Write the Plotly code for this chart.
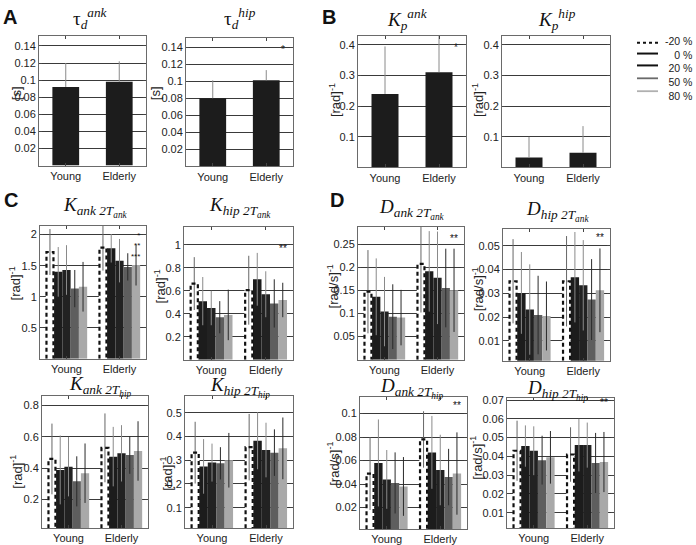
import plotly.graph_objects as go

W, H = 696, 545

groups = ["Young", "Elderly"]
group_pos = [1, 2]
levels = ["-20 %", "0 %", "20 %", "50 %", "80 %"]

# ---- Panel A / B : single bars (mean, upper SD) ----
tau_ank = [0.092, 0.098]
tau_ank_err = [0.028, 0.024]
tau_hip = [0.080, 0.101]
tau_hip_err = [0.021, 0.012]
kp_ank = [0.240, 0.311]
kp_ank_err = [0.155, 0.150]
kp_hip = [0.033, 0.048]
kp_hip_err = [0.067, 0.087]

# ---- Panel C : stiffness, levels -20,0,20,50,80 % ----
k_ank_2tank_young = [1.72, 1.40, 1.43, 1.13, 1.16]
k_ank_2tank_young_sd = [0.37, 0.40, 0.40, 0.30, 0.40]
k_ank_2tank_elderly = [1.79, 1.78, 1.58, 1.48, 1.51]
k_ank_2tank_elderly_sd = [0.37, 0.23, 0.35, 0.22, 0.33]

k_hip_2tank_young = [0.663, 0.51, 0.45, 0.37, 0.39]
k_hip_2tank_young_sd = [0.23, 0.21, 0.15, 0.14, 0.22]
k_hip_2tank_elderly = [0.605, 0.70, 0.57, 0.49, 0.52]
k_hip_2tank_elderly_sd = [0.30, 0.23, 0.20, 0.21, 0.15]

k_ank_2thip_young = [0.459, 0.389, 0.410, 0.316, 0.368]
k_ank_2thip_young_sd = [0.226, 0.22, 0.19, 0.16, 0.19]
k_ank_2thip_elderly = [0.530, 0.474, 0.495, 0.484, 0.510]
k_ank_2thip_elderly_sd = [0.22, 0.19, 0.18, 0.12, 0.19]

k_hip_2thip_young = [0.332, 0.274, 0.290, 0.287, 0.300]
k_hip_2thip_young_sd = [0.13, 0.115, 0.08, 0.068, 0.115]
k_hip_2thip_elderly = [0.355, 0.382, 0.343, 0.332, 0.350]
k_hip_2thip_elderly_sd = [0.14, 0.12, 0.115, 0.098, 0.13]

# ---- Panel D : damping ----
d_ank_2tank_young = [0.147, 0.136, 0.104, 0.093, 0.091]
d_ank_2tank_young_sd = [0.090, 0.083, 0.075, 0.070, 0.060]
d_ank_2tank_elderly = [0.207, 0.191, 0.177, 0.155, 0.150]
d_ank_2tank_elderly_sd = [0.105, 0.087, 0.100, 0.085, 0.090]

d_hip_2tank_young = [0.0351, 0.0302, 0.0232, 0.0209, 0.0205]
d_hip_2tank_young_sd = [0.0177, 0.0172, 0.0190, 0.0165, 0.0145]
d_hip_2tank_elderly = [0.0351, 0.0368, 0.0334, 0.0274, 0.0313]
d_hip_2tank_elderly_sd = [0.0190, 0.0190, 0.0190, 0.0170, 0.0176]

d_ank_2thip_young = [0.049, 0.058, 0.044, 0.041, 0.038]
d_ank_2thip_young_sd = [0.031, 0.037, 0.025, 0.026, 0.025]
d_ank_2thip_elderly = [0.078, 0.067, 0.052, 0.046, 0.049]
d_ank_2thip_elderly_sd = [0.024, 0.031, 0.030, 0.024, 0.035]

d_hip_2thip_young = [0.043, 0.0455, 0.043, 0.038, 0.0395]
d_hip_2thip_young_sd = [0.016, 0.011, 0.013, 0.013, 0.014]
d_hip_2thip_elderly = [0.041, 0.046, 0.046, 0.0365, 0.037]
d_hip_2thip_elderly_sd = [0.0145, 0.014, 0.012, 0.016, 0.016]

# ---- styling ----
bar_fill = ["#ffffff", "#1c1c1c", "#222222", "#5e5e5e", "#a9a9a9"]
err_color = ["#666666", "#8a8a8a", "#8a8a8a", "#2a2a2a", "#2a2a2a"]
legend_line_color = ["#111111", "#111111", "#111111", "#6a6a6a", "#b0b0b0"]
BAR_W = 0.156

SANS = "Liberation Sans, Arial, sans-serif"
SERIF = "Liberation Serif, Times New Roman, serif"

# panel geometry in pixels: left, right, top, bottom
panels = [
    dict(box=(39, 146, 32, 163), rng=(0, 0.152), tv=[0.02, 0.04, 0.06, 0.08, 0.1, 0.12, 0.14],
         tt=["0.02", "0.04", "0.06", "0.08", "0.1", "0.12", "0.14"],
         title="τ<sub><i>d</i></sub><sup><i>ank</i></sup>", tpos=(90, 15),
         ylab="[s]", ylpos=(16, 90)),
    dict(box=(186, 293, 34, 164), rng=(0, 0.151), tv=[0.02, 0.04, 0.06, 0.08, 0.1, 0.12, 0.14],
         tt=["0.02", "0.04", "0.06", "0.08", "0.1", "0.12", "0.14"],
         title="τ<sub><i>d</i></sub><sup><i>hip</i></sup>", tpos=(240, 15),
         ylab="[s]", ylpos=(155, 90)),
    dict(box=(358, 466, 32, 165), rng=(0, 0.43), tv=[0.1, 0.2, 0.3, 0.4],
         tt=["0.1", "0.2", "0.3", "0.4"],
         title="<i>K</i><sub><i>p</i></sub><sup><i>ank</i></sup>", tpos=(408, 16),
         ylab="[rad]<sup>-1</sup>", ylpos=(335, 97)),
    dict(box=(502, 610, 32, 165), rng=(0, 0.43), tv=[0.1, 0.2, 0.3, 0.4],
         tt=["0.1", "0.2", "0.3", "0.4"],
         title="<i>K</i><sub><i>p</i></sub><sup><i>hip</i></sup>", tpos=(557, 16),
         ylab="[rad]<sup>-1</sup>", ylpos=(478, 97)),
    dict(box=(40, 146, 224, 358), rng=(0, 2.14), tv=[0.5, 1, 1.5, 2], tt=["0.5", "1", "1.5", "2"],
         title="<i>K</i><sub><i>ank 2T</i><sub><i>ank</i></sub></sub>", tpos=(95, 205),
         ylab="[rad]<sup>-1</sup>", ylpos=(15, 282)),
    dict(box=(184, 293, 225, 359), rng=(0, 1.156), tv=[0.2, 0.4, 0.6, 0.8, 1],
         tt=["0.2", "0.4", "0.6", "0.8", "1"],
         title="<i>K</i><sub><i>hip 2T</i><sub><i>ank</i></sub></sub>", tpos=(240, 205),
         ylab="[rad]<sup>-1</sup>", ylpos=(160, 285)),
    dict(box=(358, 464, 225, 359), rng=(0, 0.287), tv=[0.05, 0.1, 0.15, 0.2, 0.25],
         tt=["0.05", "0.1", "0.15", "0.2", "0.25"],
         title="<i>D</i><sub><i>ank 2T</i><sub><i>ank</i></sub></sub>", tpos=(412, 207),
         ylab="[rad/s]<sup>-1</sup>", ylpos=(333, 285)),
    dict(box=(503, 610, 227, 360), rng=(0.0017, 0.0571), tv=[0.01, 0.02, 0.03, 0.04, 0.05],
         tt=["0.01", "0.02", "0.03", "0.04", "0.05"],
         title="<i>D</i><sub><i>hip 2T</i><sub><i>ank</i></sub></sub>", tpos=(557, 209),
         ylab="[rad/s]<sup>-1</sup>", ylpos=(478, 288)),
    dict(box=(42, 148, 396, 529), rng=(0.017, 0.859), tv=[0.2, 0.4, 0.6, 0.8],
         tt=["0.2", "0.4", "0.6", "0.8"],
         title="<i>K</i><sub><i>ank 2T</i><sub><i>hip</i></sub></sub>", tpos=(100, 386),
         ylab="[rad]<sup>-1</sup>", ylpos=(16, 472)),
    dict(box=(185, 293, 396, 529), rng=(0.014, 0.569), tv=[0.1, 0.2, 0.3, 0.4, 0.5],
         tt=["0.1", "0.2", "0.3", "0.4", "0.5"],
         title="<i>K</i><sub><i>hip 2T</i><sub><i>hip</i></sub></sub>", tpos=(240, 387),
         ylab="[rad]<sup>-1</sup>", ylpos=(166, 474)),
    dict(box=(360, 467, 397, 530), rng=(0.0017, 0.1138), tv=[0.02, 0.04, 0.06, 0.08, 0.1],
         tt=["0.02", "0.04", "0.06", "0.08", "0.1"],
         title="<i>D</i><sub><i>ank 2T</i><sub><i>hip</i></sub></sub>", tpos=(412, 388),
         ylab="[rad/s]<sup>-1</sup>", ylpos=(333, 464)),
    dict(box=(507, 614, 398, 529), rng=(0.0018, 0.0709),
         tv=[0.01, 0.02, 0.03, 0.04, 0.05, 0.06, 0.07],
         tt=["0.01", "0.02", "0.03", "0.04", "0.05", "0.06", "0.07"],
         title="<i>D</i><sub><i>hip 2T</i><sub><i>hip</i></sub></sub>", tpos=(557, 390),
         ylab="[rad/s]<sup>-1</sup>", ylpos=(476, 458)),
]

single_data = [
    (tau_ank, tau_ank_err, None),
    (tau_hip, tau_hip_err, ("*", 0.137)),
    (kp_ank, kp_ank_err, ("*", 0.392)),
    (kp_hip, kp_hip_err, None),
]
# significance markers: (text, y, font size, y-anchor)
grouped_data = [
    (k_ank_2tank_young, k_ank_2tank_young_sd, k_ank_2tank_elderly, k_ank_2tank_elderly_sd,
     ("*<br>**<br>***", 2.09, 8, "top")),
    (k_hip_2tank_young, k_hip_2tank_young_sd, k_hip_2tank_elderly, k_hip_2tank_elderly_sd,
     ("**", 0.97, 10, "middle")),
    (d_ank_2tank_young, d_ank_2tank_young_sd, d_ank_2tank_elderly, d_ank_2tank_elderly_sd,
     ("**", 0.262, 10, "middle")),
    (d_hip_2tank_young, d_hip_2tank_young_sd, d_hip_2tank_elderly, d_hip_2tank_elderly_sd,
     ("**", 0.0535, 10, "middle")),
    (k_ank_2thip_young, k_ank_2thip_young_sd, k_ank_2thip_elderly, k_ank_2thip_elderly_sd, None),
    (k_hip_2thip_young, k_hip_2thip_young_sd, k_hip_2thip_elderly, k_hip_2thip_elderly_sd, None),
    (d_ank_2thip_young, d_ank_2thip_young_sd, d_ank_2thip_elderly, d_ank_2thip_elderly_sd,
     ("**", 0.107, 10, "middle")),
    (d_hip_2thip_young, d_hip_2thip_young_sd, d_hip_2thip_elderly, d_hip_2thip_elderly_sd,
     ("**", 0.0685, 10, "middle")),
]

fig = go.Figure()
layout = dict(
    width=W, height=H, margin=dict(l=0, r=0, t=0, b=0),
    paper_bgcolor="white", plot_bgcolor="white", barmode="overlay",
    showlegend=False, font=dict(family=SANS, size=11, color="#222"),
)
annotations = []
shapes = []


def axis_names(i):
    n = "" if i == 0 else str(i + 1)
    return "x" + n, "y" + n, "xaxis" + n, "yaxis" + n


for i, p in enumerate(panels):
    l, r, t, b = p["box"]
    xr, yr, xk, yk = axis_names(i)
    layout[xk] = dict(
        domain=[l / W, r / W], anchor=yr, range=[0.5, 2.5],
        tickvals=group_pos, ticktext=groups, ticks="inside", ticklen=3,
        showline=True, linecolor="#6a6a6a", linewidth=1, mirror="ticks",
        showgrid=False, zeroline=False, tickfont=dict(size=11, color="#222"),
        fixedrange=True,
    )
    layout[yk] = dict(
        domain=[1 - b / H, 1 - t / H], anchor=xr, range=list(p["rng"]),
        tickvals=p["tv"], ticktext=p["tt"], ticks="inside", ticklen=3,
        showline=True, linecolor="#6a6a6a", linewidth=1, mirror="ticks",
        showgrid=True, gridcolor="#3a3a3a", gridwidth=1, zeroline=False,
        tickfont=dict(size=11, color="#222"), fixedrange=True,
    )
    annotations.append(dict(
        x=p["tpos"][0] / W, y=1 - p["tpos"][1] / H, xref="paper", yref="paper",
        text=p["title"], showarrow=False, xanchor="center", yanchor="middle",
        font=dict(family=SERIF, size=19, color="#111"),
    ))
    annotations.append(dict(
        x=p["ylpos"][0] / W, y=1 - p["ylpos"][1] / H, xref="paper", yref="paper",
        text=p["ylab"], showarrow=False, textangle=-90, xanchor="center", yanchor="middle",
        font=dict(family=SANS, size=13, color="#222"),
    ))

# single-bar panels
for i, (vals, errs, star) in enumerate(single_data):
    xr, yr, _, _ = axis_names(i)
    fig.add_trace(go.Bar(
        x=group_pos, y=vals, width=0.5, xaxis=xr, yaxis=yr,
        marker=dict(color="#1c1c1c", line=dict(width=0)),
        error_y=dict(type="data", array=errs, arrayminus=[0] * len(errs), symmetric=False,
                     width=0, thickness=1, color="#8a8a8a"),
    ))
    if star:
        annotations.append(dict(x=2.31, y=star[1], xref=xr, yref=yr, text=star[0],
                                showarrow=False, font=dict(size=10, color="#222")))

# grouped panels
for j, (yv, ys, ev, es, star) in enumerate(grouped_data):
    i = j + 4
    xr, yr, _, _ = axis_names(i)
    ymin = panels[i]["rng"][0]
    for k, lev in enumerate(levels):
        fig.add_trace(go.Bar(
            x=group_pos, y=[yv[k], ev[k]], width=BAR_W, offset=(k - 2.5) * BAR_W,
            xaxis=xr, yaxis=yr, name=lev,
            marker=dict(color=bar_fill[k], line=dict(width=0)),
            error_y=dict(type="data", array=[ys[k], es[k]], width=0, thickness=1,
                         color=err_color[k]),
        ))
    # dashed outline of the -20 % bars
    xs, yo = [], []
    for c, v in zip(group_pos, [yv[0], ev[0]]):
        x0 = c - 2.5 * BAR_W + 0.012
        x1 = x0 + BAR_W - 0.024
        xs += [x0, x0, x1, x1, None]
        yo += [ymin, v, v, ymin, None]
    fig.add_trace(go.Scatter(
        x=xs, y=yo, mode="lines", xaxis=xr, yaxis=yr, hoverinfo="skip",
        line=dict(color="#111", width=2.2, dash="4px,3px"),
    ))
    if star:
        annotations.append(dict(x=2.43, y=star[1], xref=xr, yref=yr, text=star[0],
                                showarrow=False, xanchor="right", align="right",
                                yanchor=star[3],
                                font=dict(size=star[2], color="#111")))

# panel letters
for letter, (px, py) in zip("ABCD", [(10, 13), (329, 13), (11, 198), (337, 198)]):
    annotations.append(dict(x=px / W, y=1 - py / H, xref="paper", yref="paper",
                            text="<b>" + letter + "</b>", showarrow=False,
                            xanchor="center", yanchor="middle",
                            font=dict(family=SANS, size=20, color="#111")))

# legend (drawn manually)
leg_line_y = [39, 50, 62, 75, 88]
for k, lev in enumerate(levels):
    shapes.append(dict(
        type="line", xref="paper", yref="paper",
        x0=637 / W, x1=658 / W, y0=1 - leg_line_y[k] / H, y1=1 - leg_line_y[k] / H,
        line=dict(color=legend_line_color[k], width=2 if k < 3 else 1.8,
                  dash="3px,3px" if k == 0 else "solid"),
    ))
annotations.append(dict(
    x=694 / W, y=1 - 29 / H, xref="paper", yref="paper", text="<br>".join(levels),
    showarrow=False, xanchor="right", yanchor="top", align="right",
    font=dict(family=SANS, size=10.5, color="#222"),
))

layout["annotations"] = annotations
layout["shapes"] = shapes
fig.update_layout(**layout)
fig.write_html(
    "out.html",
    config={"displayModeBar": False},
    post_script="document.body.style.margin='0';document.body.style.overflow='hidden';",
)
